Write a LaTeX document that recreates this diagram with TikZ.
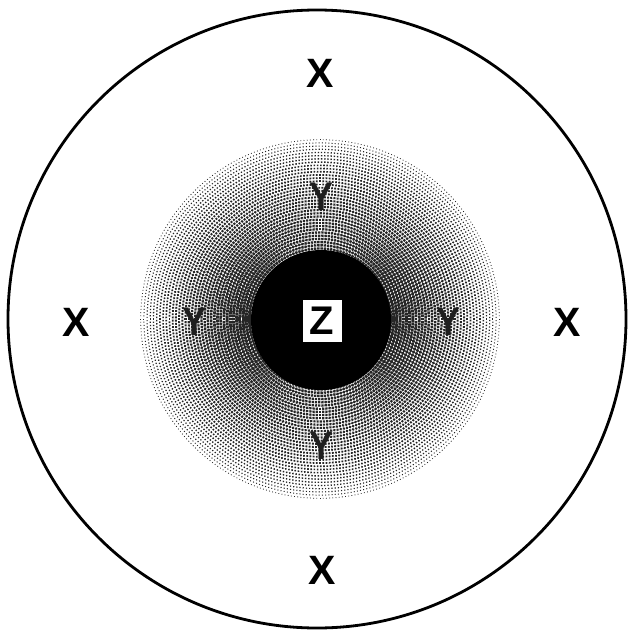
\documentclass[tikz,border=0pt]{standalone}
\usepackage{fontspec}
\setmainfont{Liberation Sans}
\begin{document}
\begin{tikzpicture}[x=1pt,y=-1pt,
  xlab/.style={font=\fontsize{41}{41}\selectfont\bfseries, inner sep=0pt},
  ylab/.style={font=\fontsize{40}{40}\selectfont\bfseries, text=black!88, inner sep=0pt, xscale=0.9},
  ]
\useasboundingbox (0,0) rectangle (629,634);
\fill[white] (0,0) rectangle (629,634);
% outer circle
\draw[line width=2.8pt] (317,319) circle (309);
% stippled zone: concentric rings of halftone dots
\begin{scope}[shift={(320,319)}]
\foreach \ii in {0,...,34}{
  \pgfmathsetmacro\ringr{70.5+\ii*3.2}
  \pgfmathtruncatemacro\ringn{2*pi*\ringr/3.2}
  \pgfmathsetmacro\ringt{(\ringr-70)/110}
  \pgfmathsetmacro\ringD{0.70*(1-\ringt)^0.9+0.06}
  \pgfmathsetmacro\dotr{1.6*sqrt(\ringD)}
  \pgfmathsetmacro\ringo{mod(\ii,2)*0.5}
  \foreach \kk in {1,...,\ringn}{
    \pgfmathsetmacro\ang{(\kk+\ringo)/\ringn*360}
    \pgfmathsetmacro\dotrr{\dotr*(1+0.14*(1-\ringt)*cos(2*\ang))}
    \fill[black!85,shift={(\ang:\ringr)},rotate=\ang] (-\dotrr,-\dotrr) rectangle (\dotrr,\dotrr);
  }
}
\end{scope}
% black core
\fill[black] (321,320) circle (70);
% Z box
\node[fill=white, minimum width=39pt, minimum height=42pt, inner sep=0pt,
      font=\fontsize{40}{40}\selectfont\bfseries] (z) at (322,321) {Z};
% X labels
\node[xlab] (xt) at (320,73) {X};
\node[xlab] (xl) at (76,322) {X};
\node[xlab] (xr) at (567,322) {X};
\node[xlab] (xb) at (322,570) {X};
% Y labels
\node[ylab] (yt) at (322,197) {Y};
\node[ylab] (yl) at (195,322) {Y};
\node[ylab] (yr) at (448,322) {Y};
\node[ylab] (yb) at (322,446) {Y};
\end{tikzpicture}
\end{document}
